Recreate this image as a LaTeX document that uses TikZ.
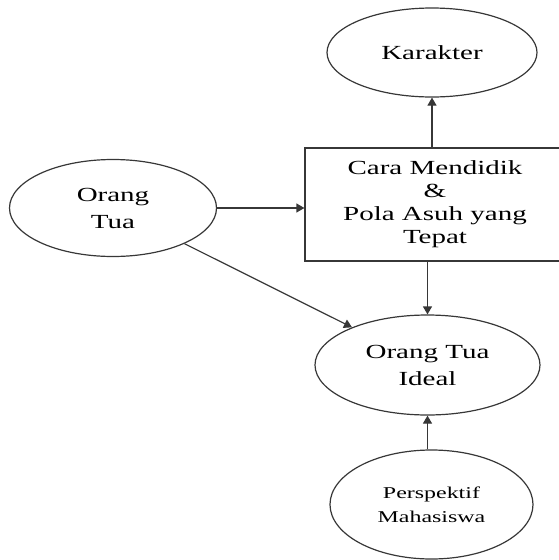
\documentclass[tikz,border=0pt]{standalone}
\usepackage{fontspec}
\setmainfont{Liberation Serif}[FakeStretch=1.45]
\usetikzlibrary{shapes.geometric, arrows.meta, positioning, calc}
\definecolor{linegray}{RGB}{55, 55, 55}

\begin{document}
\begin{tikzpicture}[x=1pt, y=-1pt,
            oval/.style={ellipse, draw=linegray, line width=1.2pt, inner sep=0pt, align=center, font=\fontsize{20}{27}\selectfont},
            box/.style={rectangle, draw=linegray, line width=1.2pt, inner sep=0pt, align=center, font=\fontsize{20}{23}\selectfont},
            arr/.style={-{Triangle[length=8pt, width=9pt]}, line width=1.2pt, linegray}
        ]
            \useasboundingbox (0,0) rectangle (558,560);

            \node[oval, minimum width=210pt, minimum height=89pt] (karakter) at (432,52.5) {Karakter};
            \node[box, minimum width=260pt, minimum height=113pt] (cara) at (435,204.5) {Cara Mendidik\\\&\\Pola Asuh yang\\Tepat};
            \node[oval, minimum width=207pt, minimum height=97pt] (ortu) at (113,208) {Orang\\Tua};
            \node[oval, minimum width=225pt, minimum height=100pt] (ideal) at (427.5,365) {Orang Tua\\Ideal};
            \node[oval, minimum width=203pt, minimum height=109pt, font=\fontsize{16.5}{24}\selectfont] (persp) at (431.5,504.5) {Perspektif\\Mahasiswa};

            \draw[arr] (karakter.south |- cara.north) -- (karakter.south);
            \draw[arr] (ortu.east) -- (ortu.east -| cara.west);
            \draw[arr] (ortu) -- (ideal);
            \draw[arr] (ideal.north |- cara.south) -- (ideal.north);
            \draw[arr] (ideal.south |- persp.north) -- (ideal.south);
        \end{tikzpicture}
\end{document}
